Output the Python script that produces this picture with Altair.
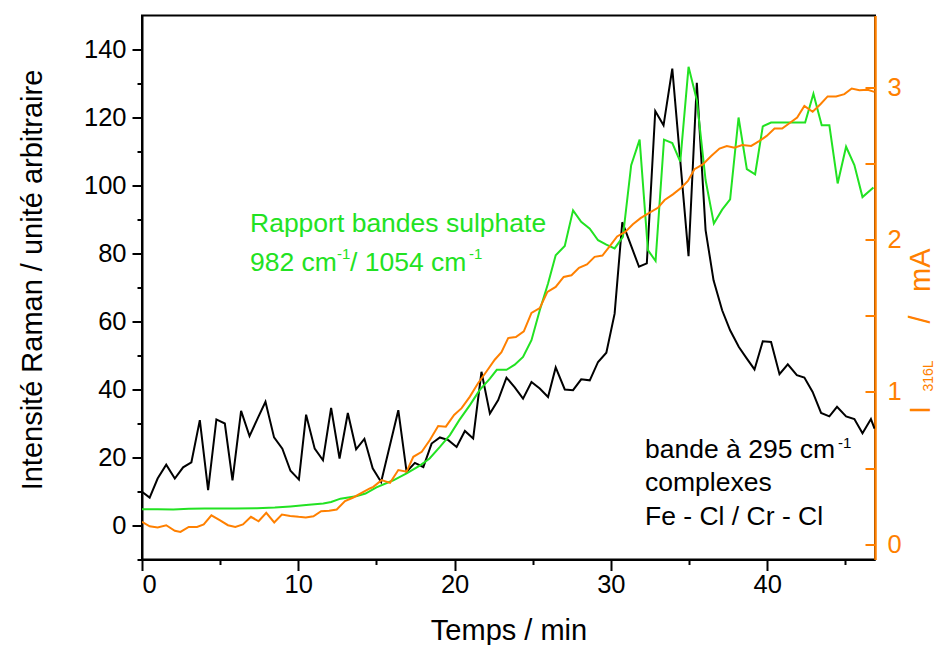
import altair as alt
import pandas as pd

# ---------------- data ----------------
black_t = [0.0, 0.49, 1.0, 1.55, 2.1, 2.63, 3.16, 3.7, 4.23, 4.76, 5.3, 5.79, 6.34, 6.88, 7.4, 7.9,
           8.45, 8.98, 9.5, 10.04, 10.5, 11.05, 11.58, 12.1, 12.64, 13.17, 13.7, 14.23, 14.76, 15.3,
           16.4, 16.93, 17.46, 18.0, 18.53, 19.06, 19.6, 20.13, 20.66, 21.19, 21.72, 22.26, 22.79,
           23.32, 23.85, 24.38, 24.92, 25.45, 25.98, 26.47, 27.05, 27.58, 28.1, 28.65, 29.18, 29.71,
           30.24, 30.73, 31.8, 32.3, 32.84, 33.37, 33.93, 34.97, 35.5, 36.06, 36.57, 37.12, 37.63,
           38.19, 38.7, 39.19, 39.72, 40.25, 40.79, 41.32, 41.9, 42.38, 42.91, 43.45, 43.98, 44.47,
           45.05, 45.58, 46.1, 46.64, 46.87]
black_v = [9.9, 8.2, 13.8, 17.9, 13.8, 17.1, 18.6, 31.0, 10.4, 31.2, 30.0, 13.3, 33.7, 26.3, 31.5, 36.4,
           25.9, 22.6, 16.1, 13.5, 32.6, 22.6, 19.2, 34.6, 19.7, 33.1, 22.4, 25.5, 16.8, 12.8,
           33.9, 15.8, 18.4, 17.2, 24.1, 25.9, 25.1, 23.1, 27.8, 25.6, 45.2, 32.9, 36.9,
           43.5, 40.6, 37.3, 42.2, 40.3, 37.8, 46.5, 40.0, 39.8, 43.0, 42.7, 48.1, 50.8,
           62.3, 89.2, 76.1, 77.1, 121.9, 117.7, 134.4, 79.2, 130.2, 86.9, 72.1, 63.3, 57.4,
           52.5, 49.1, 45.9, 54.2, 54.0, 44.5, 47.4, 44.2, 43.5, 39.3, 33.1, 32.1, 34.9,
           32.1, 31.3, 27.1, 31.3, 28.5]

green_t = [0.0, 1.0, 2.0, 3.0, 4.0, 5.0, 6.0, 7.35, 8.5, 9.5, 10.5, 11.6, 12.1, 12.7, 13.7, 14.3,
           15.0, 16.08, 16.93, 17.8, 18.4, 19.06, 19.7, 20.3, 20.98, 21.6, 22.26, 22.7, 23.32,
           23.85, 24.38, 24.92, 25.45, 25.98, 26.47, 27.05, 27.58, 28.1, 28.65, 29.18, 29.71,
           30.24, 30.77, 31.3, 31.84, 32.37, 32.86, 33.4, 33.93, 34.44, 34.97, 35.5, 36.06,
           36.59, 37.12, 37.63, 38.17, 38.7, 39.23, 39.72, 40.25, 40.79, 41.32, 41.9, 42.43,
           42.96, 43.49, 43.98, 44.51, 45.05, 45.58, 46.1, 46.8]
green_v = [4.8, 4.8, 4.7, 4.9, 5.0, 5.0, 5.0, 5.1, 5.3, 5.6, 6.0, 6.5, 6.9, 7.9, 8.6, 9.4,
           11.2, 13.3, 15.3, 17.7, 19.7, 23.1, 26.6, 31.0, 35.4, 39.8, 43.2, 45.8, 45.8,
           47.3, 49.6, 54.5, 63.3, 71.2, 79.5, 82.2, 92.7, 89.3, 87.3, 83.9, 82.6,
           81.5, 84.9, 106.0, 113.5, 81.0, 77.8, 113.5, 112.5, 107.0, 134.9, 125.1, 101.6,
           88.8, 92.9, 95.9, 120.0, 104.8, 103.3, 117.4, 118.5, 118.5, 118.5, 118.5, 118.5,
           127.0, 117.7, 117.7, 100.6, 111.4, 106.0, 96.6, 99.4]

orange_t = [0.0, 0.49, 1.0, 1.55, 2.1, 2.46, 2.99, 3.52, 3.95, 4.44, 4.97, 5.5, 5.97, 6.46, 6.97,
            7.46, 7.95, 8.46, 8.95, 9.48, 10.02, 10.48, 10.97, 11.46, 11.97, 12.46, 12.99, 13.52,
            14.05, 14.58, 14.8, 15.33, 15.87, 16.4, 16.93, 17.36, 17.9, 18.42, 18.95, 19.44,
            19.97, 20.45, 20.98, 21.5, 22.04, 22.57, 23.0, 23.43, 23.92, 24.43, 24.92, 25.45,
            25.94, 26.47, 26.98, 27.48, 27.96, 28.47, 28.96, 29.46, 29.92, 30.4, 30.92, 31.41,
            31.9, 32.48, 33.01, 33.44, 33.97, 34.5, 34.93, 35.35, 35.88, 36.42, 36.95, 37.42,
            37.91, 38.4, 38.98, 39.51, 39.97, 40.47, 40.96, 41.42, 41.92, 42.38, 42.91, 43.41,
            43.87, 44.41, 44.94, 45.41, 45.9, 46.43, 46.86]
orange_v = [0.147, 0.118, 0.11, 0.125, 0.088, 0.081, 0.114, 0.114, 0.13, 0.19, 0.158, 0.125, 0.114,
            0.13, 0.18, 0.151, 0.206, 0.143, 0.195, 0.186, 0.18, 0.176, 0.184, 0.217, 0.22, 0.228,
            0.283, 0.307, 0.337, 0.366, 0.377, 0.421, 0.403, 0.487, 0.476, 0.574, 0.607, 0.684,
            0.776, 0.772, 0.849, 0.893, 0.969, 1.057, 1.134, 1.211, 1.26, 1.353, 1.36, 1.397,
            1.518, 1.55, 1.656, 1.689, 1.754, 1.765, 1.814, 1.836, 1.886, 1.895, 1.955, 2.02,
            2.05, 2.1, 2.14, 2.176, 2.208, 2.259, 2.296, 2.34, 2.384, 2.461, 2.493, 2.548, 2.597,
            2.614, 2.603, 2.62, 2.614, 2.647, 2.68, 2.728, 2.728, 2.763, 2.8, 2.877, 2.838,
            2.888, 2.939, 2.939, 2.954, 2.991, 2.98, 2.982, 2.969]

x_ticks = [0, 5, 10, 15, 20, 25, 30, 35, 40, 45]
left_ticks = [-10, 0, 10, 20, 30, 40, 50, 60, 70, 80, 90, 100, 110, 120, 130, 140]
right_ticks = [0, 0.5, 1, 1.5, 2, 2.5, 3]
right_labels = [0, 1, 2, 3]

X_DOMAIN = [0, 46.9]
LEFT_DOMAIN = [-10, 150]
RIGHT_DOMAIN = [-0.1, 3.47]

W, H = 733, 544
FONT = "Liberation Sans"
GREEN = "#22E222"
ORANGE = "#FF8000"

df_black = pd.DataFrame({"t": black_t, "v": black_v})
df_green = pd.DataFrame({"t": green_t, "v": green_v})
df_orange = pd.DataFrame({"t": orange_t, "v": orange_v})

x_enc = alt.X(
    "t:Q",
    scale=alt.Scale(domain=X_DOMAIN, nice=False, zero=False),
    axis=alt.Axis(
        values=x_ticks,
        labelExpr="datum.value % 10 == 0 ? datum.label : ''",
        tickSize={"condition": {"test": "datum.value % 10 == 0", "value": 11}, "value": 5},
        labelPadding=2,
        title="Temps / min",
        titleX=W / 2,
        titleY=80,
        titleBaseline="alphabetic",
        titleFontSize=29,
        titleFontWeight="normal",
    ),
)

left_y = alt.Y(
    "v:Q",
    scale=alt.Scale(domain=LEFT_DOMAIN, nice=False, zero=False),
    axis=alt.Axis(
        orient="left",
        values=left_ticks,
        labelExpr="datum.value % 20 == 0 ? datum.label : ''",
        tickSize={"condition": {"test": "datum.value % 20 == 0", "value": 10}, "value": 5},
        labelPadding=6,
        title="Intensité Raman / unité arbitraire",
        titleAngle=270,
        titleX=-101,
        titleY=264,
        titleAlign="center",
        titleBaseline="alphabetic",
        titleFontSize=29,
        titleFontWeight="normal",
    ),
)

black = alt.Chart(df_black).mark_line(color="black", strokeWidth=2, clip=True).encode(x=x_enc, y=left_y)
green = alt.Chart(df_green).mark_line(color=GREEN, strokeWidth=2, clip=True).encode(x=x_enc, y=left_y)
left_layer = alt.layer(black, green)

right_scale = alt.Scale(domain=RIGHT_DOMAIN, nice=False, zero=False)
orange = alt.Chart(df_orange).mark_line(color=ORANGE, strokeWidth=2, clip=True).encode(
    x=x_enc,
    y=alt.Y(
        "v:Q",
        scale=right_scale,
        axis=alt.Axis(
            orient="right",
            values=right_labels,
            ticks=False,
            tickSize=0,
            labelPadding=12,
            labelColor=ORANGE,
            domainColor=ORANGE,
            domainWidth=2.5,
            title=None,
        ),
    ),
)

# inward ticks of the right axis (a left-oriented axis moved to the right edge)
orange_ticks = alt.Chart(df_orange).mark_line(opacity=0, clip=True).encode(
    x=x_enc,
    y=alt.Y(
        "v:Q",
        scale=right_scale,
        axis=alt.Axis(
            orient="left",
            offset=-W,
            values=right_ticks,
            labels=False,
            domain=False,
            tickColor=ORANGE,
            tickSize=10,
            tickWidth=2,
            title=None,
        ),
    ),
)


def txt(s, x, y, size, color, angle=0):
    return alt.Chart(pd.DataFrame({"s": [s]})).mark_text(
        text=s, font=FONT, fontSize=size, color=color, align="left",
        baseline="alphabetic", angle=angle,
    ).encode(x=alt.value(x), y=alt.value(y))


annotations = [
    txt("Rapport bandes sulphate", 108, 216, 26.5, GREEN),
    txt("982 cm", 108, 255.5, 26.5, GREEN),
    txt("-1", 195, 243, 15, GREEN),
    txt("/ 1054 cm", 208, 255.5, 26.5, GREEN),
    txt("-1", 327, 243, 15, GREEN),
    txt("bande à 295 cm", 503, 442.5, 26.5, "black"),
    txt("-1", 696, 432.5, 15, "black"),
    txt("complexes", 503, 475.5, 26.5, "black"),
    txt("Fe - Cl / Cr - Cl", 503, 509.5, 26.5, "black"),
    txt("I", 788, 398.5, 29, ORANGE, 270),
    txt("316L", 791, 376, 14, ORANGE, 270),
    txt("/", 788, 308, 29, ORANGE, 270),
    txt("mA", 788, 276.5, 29, ORANGE, 270),
]

chart = (
    alt.layer(left_layer, orange, orange_ticks, *annotations)
    .resolve_scale(y="independent")
    .properties(
        width=W,
        height=H,
        autosize=alt.AutoSizeParams(type="none"),
        padding={"left": 134, "top": 7.5, "right": 63, "bottom": 85.5},
    )
    .configure_view(stroke="black", strokeWidth=2)
    .configure_axis(
        grid=False,
        domainColor="black",
        domainWidth=2,
        tickColor="black",
        tickWidth=2,
        labelFont=FONT,
        labelFontSize=25.5,
        labelColor="black",
        titleFont=FONT,
        titleColor="black",
    )
)

chart.save("out.html", embed_options={"renderer": "svg", "actions": False})
